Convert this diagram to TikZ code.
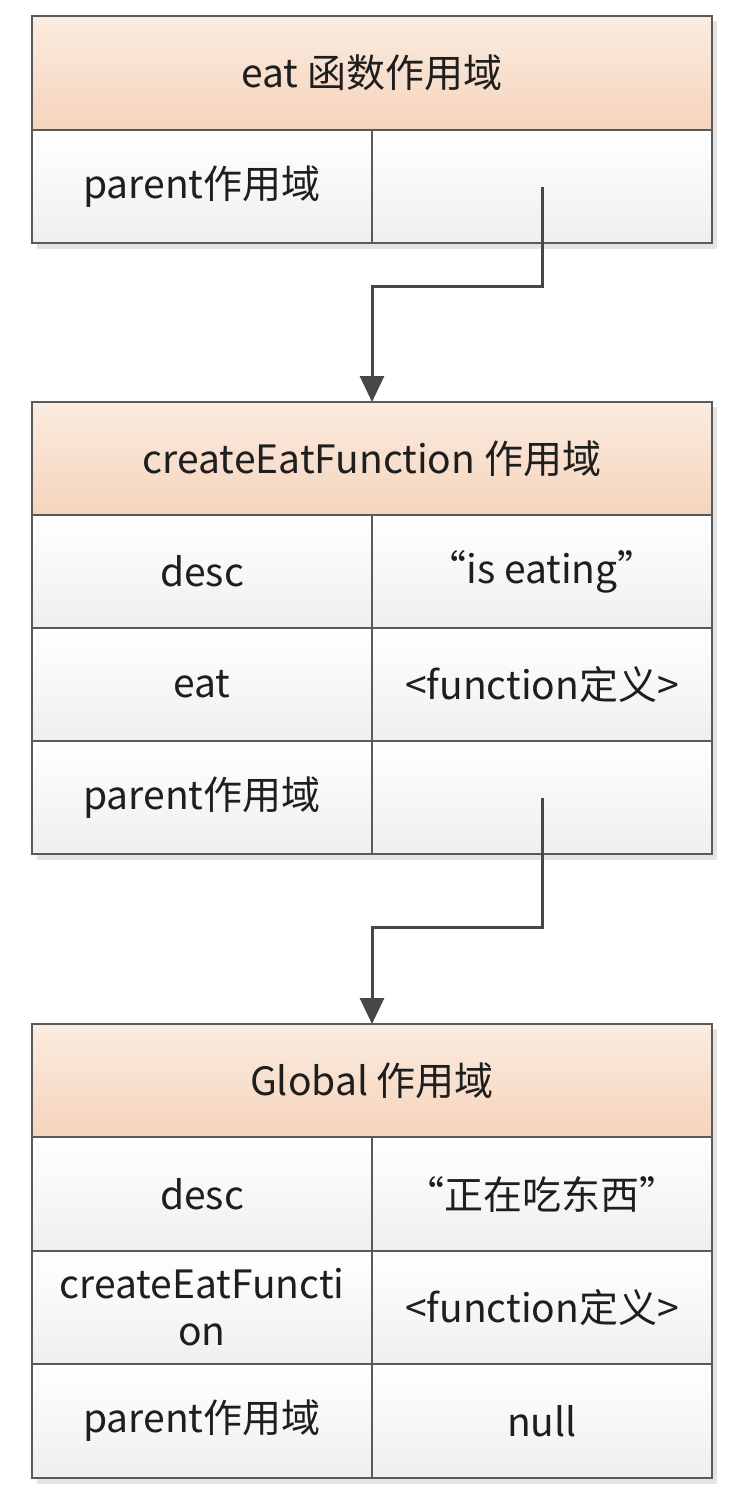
\documentclass[tikz,border=0pt]{standalone}
\usepackage{fontspec}
\setmainfont{Noto Sans CJK SC}
\usetikzlibrary{arrows.meta,shadings}
\definecolor{linec}{HTML}{5A5A5A}
\definecolor{arrc}{HTML}{474747}
\definecolor{hdtop}{HTML}{FBEBE0}
\definecolor{hdbot}{HTML}{F5D4BC}
\definecolor{celltop}{HTML}{FFFFFF}
\definecolor{cellbot}{HTML}{EFEFEF}
\definecolor{shadowc}{HTML}{E4E4E4}
\definecolor{txt}{HTML}{1E1E1E}
\tikzset{
  base/.style={draw=linec, line width=1.5pt, inner sep=0pt, outer sep=0pt, text=txt,
    font=\fontsize{39}{47}\selectfont, align=center},
  header/.style={base, minimum width=680pt, minimum height=#1, top color=hdtop, bottom color=hdbot},
  header/.default=114pt,
  cellbox/.style={base, minimum width=340pt, minimum height=#1, top color=celltop, bottom color=cellbot},
  cellbox/.default=113pt,
  link/.style={draw=arrc, line width=3pt, -{Triangle[length=26pt,width=24pt]}}
}
\begin{document}
\begin{tikzpicture}[x=1pt,y=-1pt]
\useasboundingbox (0,0) rectangle (746,1494);
\fill[white] (0,0) rectangle (746,1494);
% shadows
\fill[shadowc] (37,21) rectangle (717,249);
\fill[shadowc] (37,407) rectangle (717,860);
\fill[shadowc] (37,1029) rectangle (717,1484);
% box 1
\node[header] (h1) at (372,73) {eat 函数作用域};
\node[cellbox] (k1) at (202,186.5) {parent作用域};
\node[cellbox] (v1) at (542,186.5) {};
% box 2
\node[header=113pt] (h2) at (372,458.5) {createEatFunction 作用域};
\node[cellbox] (k2a) at (202,571.5) {desc};
\node[cellbox] (v2a) at (542,571.5) {“is eating”};
\node[cellbox] (k2b) at (202,684.5) {eat};
\node[cellbox] (v2b) at (542,684.5) {<function定义>};
\node[cellbox] (k2c) at (202,797.5) {parent作用域};
\node[cellbox] (v2c) at (542,797.5) {};
% box 3
\node[header=113pt] (h3) at (372,1080.5) {Global 作用域};
\node[cellbox=114pt] (k3a) at (202,1194) {desc};
\node[cellbox=114pt] (v3a) at (542,1194) {“正在吃东西”};
\node[cellbox] (k3b) at (202,1307.5) {createEatFuncti\\on};
\node[cellbox] (v3b) at (542,1307.5) {<function定义>};
\node[cellbox=114pt] (k3c) at (202,1421) {parent作用域};
\node[cellbox=114pt] (v3c) at (542,1421) {null};
% connectors
\coordinate (m1) at (542,286);
\coordinate (m2) at (542,927);
\draw[link] (v1.center) -- (m1) -| (h2.north);
\draw[link] (v2c.center) -- (m2) -| (h3.north);
\end{tikzpicture}
\end{document}
